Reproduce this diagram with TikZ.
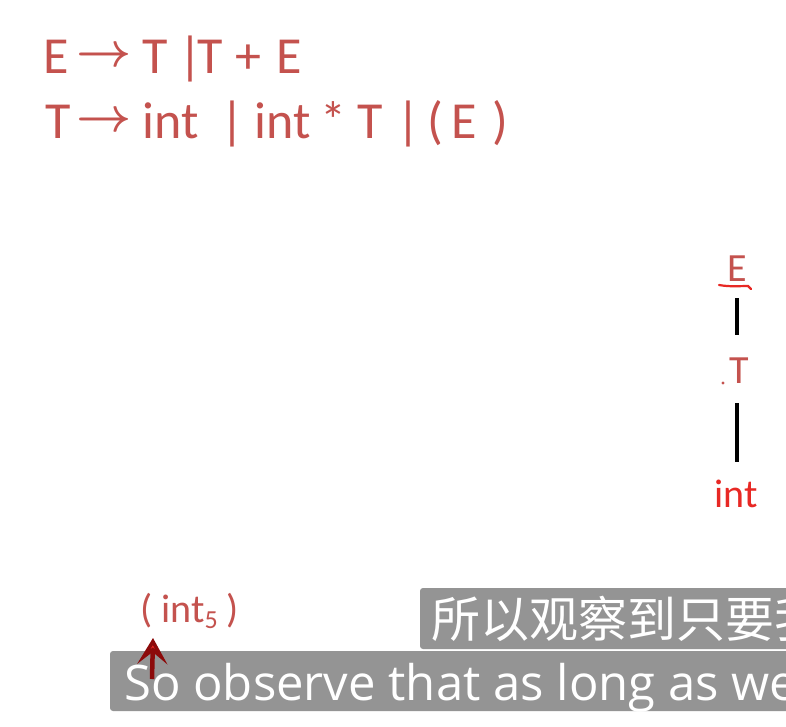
\RequirePackage{fix-cm}
\documentclass[tikz,border=0pt]{standalone}
\usepackage{fontspec}
\setmainfont{Carlito}
\newfontfamily\subfont{Open Sans}
\newfontfamily\cjk{Noto Sans CJK SC}
\usetikzlibrary{arrows.meta}
\definecolor{gram}{RGB}{196,82,78}
\definecolor{brightred}{RGB}{232,40,36}
\definecolor{subgray}{RGB}{148,148,148}
\definecolor{darkred}{RGB}{140,10,10}
\tikzset{
  gramtext/.style={text=gram, inner sep=0pt, anchor=base, font=\fontsize{52}{56}\selectfont},
  gramarrow/.style={text=gram, inner sep=0pt, anchor=center, font=\fontsize{48}{52}\selectfont\boldmath},
  treetext/.style={inner sep=2pt, font=\fontsize{40}{44}\selectfont},
  treeline/.style={line width=3.5pt, black},
  subbox/.style={fill=subgray, rounded corners=3pt},
  subtext/.style={text=white, inner sep=0pt, anchor=base west},
}
\begin{document}
\begin{tikzpicture}[x=1pt,y=-1pt]
\useasboundingbox (0,0) rectangle (786,727);
\fill[white] (0,0) rectangle (786,727);
% grammar line 1
\node[gramtext] (a1) at (56,74) {E};
\node[gramarrow] (a2) at (104,57) {$\rightarrow$};
\node[gramtext] (a3) at (155,74) {T};
\node[gramtext] (a4) at (190,74) {|};
\node[gramtext] (a5) at (210,74) {T};
\node[gramtext] (a6) at (248,74) {+};
\node[gramtext] (a7) at (289,74) {E};
% grammar line 2
\node[gramtext] (b1) at (58,139) {T};
\node[gramarrow] (b2) at (104,122) {$\rightarrow$};
\node[gramtext] (b3) at (171,139) {int};
\node[gramtext] (b4) at (232,139) {|};
\node[gramtext] (b5) at (283,139) {int};
\node[gramtext] (b6) at (333,139) {*};
\node[gramtext] (b7) at (370,139) {T};
\node[gramtext] (b8) at (408,139) {|};
\node[gramtext] (b9) at (435,139) {(};
\node[gramtext] (b10) at (464,139) {E};
\node[gramtext] (b11) at (500,139) {)};
% tree
\node[treetext, text=gram, anchor=base] (E) at (737,281) {E};
\node[treetext, text=gram, anchor=base] (T) at (739,383) {T};
\node[treetext, text=brightred, anchor=base] (int) at (736,507) {int};
\draw[brightred, line width=2.2pt, line cap=round] (719,285) .. controls (730,287) and (740,286) .. (748,286) -- (751,289);
\fill[gram] (723,383) circle (1.6);
\draw[treeline] (737,298) -- (737,335);
\draw[treeline] (737,403) -- (737,462);
% subtitles
\begin{scope}
\clip (0,0) rectangle (786,727);
\fill[subbox] (420,588) rectangle (800,649);
\fill[subbox] (110,651) rectangle (800,711);
\node[subtext, font=\cjk\fontsize{49}{52}\selectfont] (zh) at (431,637) {所以观察到只要我};
\node[subtext, font=\subfont\fontsize{49}{54}\selectfont] (en) at (124,700) {So observe that as long as we};
\end{scope}
% input
\node[gramtext, anchor=base west, font=\fontsize{40}{44}\selectfont] (inp) at (140,622) {( int\raisebox{-6pt}{\fontsize{26}{28}\selectfont 5} )};
\coordinate (tail) at (152,679);
\coordinate (tip) at (153,638);
\draw[darkred, line width=4.5pt, -{Stealth[length=26pt,width=30pt,inset=12pt,fill=brightred]}] (tail) -- (tip);
\end{tikzpicture}
\end{document}
